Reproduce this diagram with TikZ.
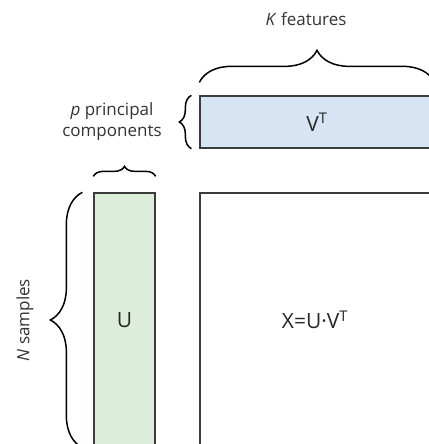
\documentclass[tikz,border=0pt]{standalone}
\usepackage{fontspec}
\setmainfont{Open Sans}
\usepackage{xcolor}
\usetikzlibrary{decorations.pathreplacing,positioning}
\definecolor{vblue}{RGB}{214,228,243}
\definecolor{ugreen}{RGB}{220,238,218}
\definecolor{edge}{RGB}{60,60,60}

\begin{document}
\begin{tikzpicture}[
  x=1pt,y=1pt,
  font=\fontsize{17}{21}\selectfont,
  mat/.style={draw=edge,line width=1.3pt,inner sep=0pt,text=black!85,
              font=\fontsize{21}{25}\selectfont},
  brc/.style={decorate,decoration={brace,amplitude=#1},line width=1.5pt,black},
  lab/.style={align=center,text=black!80}
]
\useasboundingbox (0,0) rectangle (428,444);
% matrices
\node[mat,fill=vblue,minimum width=234pt,minimum height=52pt] (vt) at (317,322) {V\textsuperscript{T}};
\node[mat,fill=ugreen,minimum width=61pt,minimum height=254pt] (u) at (124.5,124) {U};
\node[mat,fill=white,minimum width=230pt,minimum height=254pt] (x) at (315,124) {X=U·V\textsuperscript{T}};

% braces
\draw[brc=32pt] ([yshift=13pt]vt.north west) -- ([yshift=13pt]vt.north east);
\draw[brc=12pt] ([xshift=-8pt]vt.south west) -- ([xshift=-8pt]vt.north west);
\draw[brc=10pt] ([yshift=16pt]u.north west) -- ([yshift=16pt]u.north east);
\draw[brc=32pt] ([xshift=-11pt]u.south west) -- ([xshift=-11pt]u.north west);

% labels
\node[lab] (kfeat) at (306,425) {\textit{K} features};
\node[lab] (pcomp) at (112,322) {\textit{p} principal\\components};
\node[lab,rotate=90] (nsamp) at (25,124) {\textit{N} samples};
\end{tikzpicture}
\end{document}
